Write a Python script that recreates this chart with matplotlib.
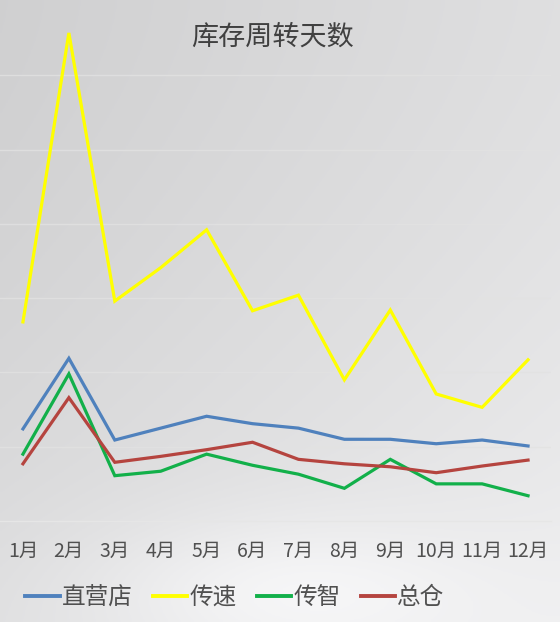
import numpy as np
import matplotlib
matplotlib.use("Agg")
import matplotlib.pyplot as plt

plt.rcParams['font.family'] = ['Noto Sans CJK SC', 'DejaVu Sans']

months = ['1月', '2月', '3月', '4月', '5月', '6月', '7月', '8月', '9月', '10月', '11月', '12月']
zhiyingdian = [12.4, 21.9, 10.9, 12.5, 14.1, 13.1, 12.5, 11.0, 11.0, 10.4, 10.9, 10.1]
chuansu = [26.8, 65.7, 29.6, 34.1, 39.2, 28.3, 30.4, 19.0, 28.4, 17.1, 15.3, 21.7]
chuanzhi = [9.0, 19.8, 6.1, 6.7, 9.0, 7.5, 6.3, 4.4, 8.3, 5.0, 5.0, 3.4]
zongcang = [7.7, 16.6, 7.9, 8.7, 9.6, 10.6, 8.3, 7.7, 7.3, 6.5, 7.4, 8.2]
series_names = ['直营店', '传速', '传智', '总仓']
colors = ['#4f81bd', '#ffff00', '#12b04a', '#b5443f']

W, H = 560, 622
fig = plt.figure(figsize=(W / 100, H / 100), dpi=100)

# background gradient
bg = fig.add_axes([0, 0, 1, 1], zorder=-10)
yy, xx = np.mgrid[0:1:200j, 0:1:200j]  # yy: 0 top -> 1 bottom
val = 0.815 + 0.06 * xx + 0.06 * yy ** 1.5
val += 0.06 * np.exp(-(((xx - 0.5) / 0.35) ** 2 + ((yy - 0.95) / 0.12) ** 2))
val = np.clip(val, 0, 1)
img = np.clip(np.dstack([val, val, val * 1.005]), 0, 1)
bg.imshow(img, aspect='auto', extent=[0, 1, 0, 1], origin='upper')
bg.set_xlim(0, 1)
bg.set_ylim(0, 1)
bg.axis('off')

left = 0 / W
right = 551 / W
top = 1 - 1 / H
bottom = 1 - 521 / H
ax = fig.add_axes([left, bottom, right - left, top - bottom])
ax.set_facecolor('none')
x = np.arange(len(months))
for data, name, c in zip([zhiyingdian, chuansu, chuanzhi, zongcang], series_names, colors):
    ax.plot(x, data, color=c, lw=2.3, label=name, solid_joinstyle='miter')

ax.set_xlim(-0.5, len(months) - 0.5)
ax.set_ylim(0, 70)
ax.set_yticks(np.arange(10, 70, 10))
ax.yaxis.grid(True, color='#e2e2e2', lw=1, alpha=0.8)
ax.set_axisbelow(True)
ax.tick_params(axis='y', left=False, labelleft=False)
ax.set_xticks(x)
ax.set_xticklabels(months, fontsize=14, color='#505050')
ax.tick_params(axis='x', length=0, pad=14)
for s in ['top', 'right', 'left']:
    ax.spines[s].set_visible(False)
ax.spines['bottom'].set_color('#e6e6e6')
ax.spines['bottom'].set_linewidth(1)

fig.text(272 / W, 1 - 37 / H, '库存周转天数', fontsize=19.5, color='#404040',
         ha='center', va='center')

leg = fig.legend(loc='center', bbox_to_anchor=(235 / W, 1 - 598 / H), ncol=4,
                 frameon=False, fontsize=17, labelcolor='#505050',
                 handlelength=1.45, handletextpad=0.1, columnspacing=0.85)
for l in leg.get_lines():
    l.set_linewidth(2.8)

fig.savefig('out.png', dpi=100)
